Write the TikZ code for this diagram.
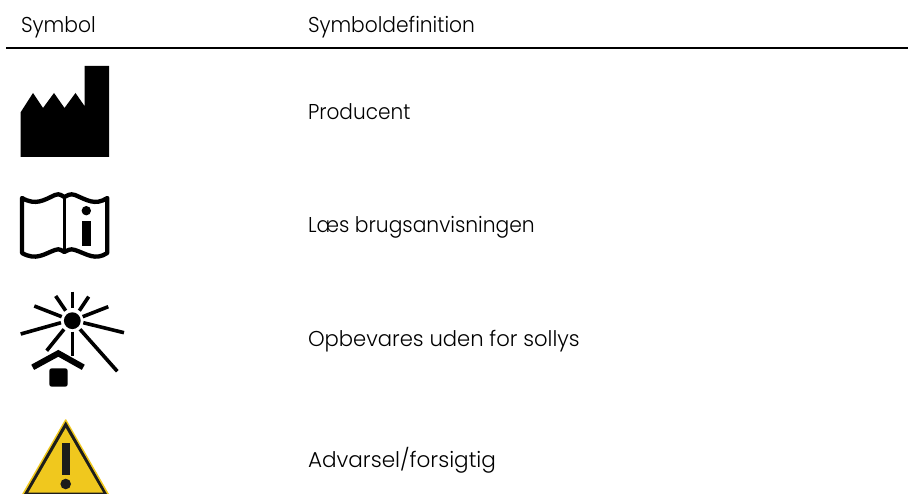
\documentclass[tikz,border=0pt]{standalone}
\usepackage{fontspec}
\setmainfont{Poppins Light}
\definecolor{warnyellow}{HTML}{F0C81E}
\definecolor{warnblack}{HTML}{1D1D1B}
\tikzset{
  label text/.style={anchor=base west,inner sep=0pt,outer sep=0pt,font=\fontsize{21.5}{26}\selectfont,text=black},
  ray/.style={line width=3.6pt,black},
  book line/.style={line width=4.3pt,black,line join=round}
}
\begin{document}
\begin{tikzpicture}[x=1pt,y=-1pt]
\useasboundingbox (0,0) rectangle (908,494);
\clip (0,0) rectangle (908,494);
\node[label text] (h1) at (21,33) {\scalebox{.943}[1]{Symbol}};
\node[label text] (h2) at (308,33) {\scalebox{.94}[1]{Symboldefinition}};
\coordinate (ruleL) at (6,48.5);
\coordinate (ruleR) at (908,48.5);
\draw[line width=2pt] (ruleL) -- (ruleR);
\node[label text] (t1) at (308,120) {\scalebox{.934}[1]{Producent}};
\node[label text] (t2) at (308,232.5) {\scalebox{.943}[1]{Læs brugsanvisningen}};
\node[label text] (t3) at (308,346.5) {\scalebox{.983}[1]{Opbevares uden for sollys}};
\node[label text] (t4) at (308,467) {\scalebox{1.003}[1]{Advarsel/forsigtig}};
% factory
\fill (20.5,157) -- (20.5,112.5) -- (33,93) -- (43,108) -- (54,93) -- (64.5,108) -- (75.5,93) -- (84.5,106) -- (84.5,66) -- (109,66) -- (109,157) -- cycle;
% book
\draw[book line] (22,198) .. controls (36,206) and (44,200) .. (55,195) .. controls (60,193) and (62,196) .. (64.3,197) .. controls (67,196) and (70,193) .. (75,195) .. controls (87,200) and (95,206) .. (107.3,198) -- (107.3,253) .. controls (95,261) and (87,254) .. (75,250) .. controls (70,248) and (67,251) .. (64.3,252) .. controls (62,251) and (60,248) .. (55,250) .. controls (44,254) and (36,261) .. (22,253) -- cycle;
\draw[line width=3.4pt] (64.3,197) -- (64.3,252);
\fill (86.3,210.7) circle (4.7);
\fill (82.3,220.7) rectangle (90.7,246);
% sun
\fill (72.3,320.7) circle (8.4);
\foreach \a/\b/\c/\d in {72.3/291.7/72.3/308.3, 55.7/296/65.7/310.7, 88.7/296.7/79.3/310.7, 34.3/306/61.7/316.7, 108.3/306.7/82.7/316.7, 20.7/334/61/322.7, 124/332.7/83.3/322.7, 46.7/350.7/64/329.3, 72.3/331.7/72.3/356, 80/329.3/117.3/371.3}
  \draw[ray] (\a,\b) -- (\c,\d);
\draw[line width=6pt,miter limit=10] (32.7,367.3) -- (58.3,353.3) -- (83.3,367.3);
\fill[rounded corners=2.5pt] (49.3,368.3) rectangle (67.7,386.7);
% warning triangle
\fill[warnyellow,rounded corners=1pt] (65.7,418.5) -- (10,515) -- (121,515) -- cycle;
\fill[warnblack] (65.7,421.5) -- (12,515) -- (119,515) -- cycle;
\fill[warnyellow] (65.7,428) -- (28.3,492.7) -- (103.1,492.7) -- cycle;
\fill[warnblack] (61.7,443.3) rectangle (69.7,475);
\fill[warnblack] (65.7,484) circle (5.3);
\end{tikzpicture}
\end{document}
